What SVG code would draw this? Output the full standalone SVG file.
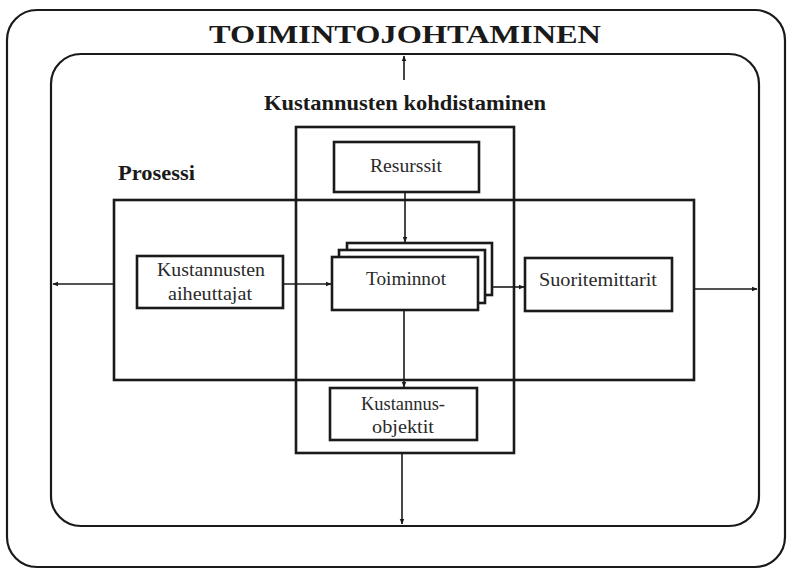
<svg xmlns="http://www.w3.org/2000/svg" width="792" height="569" viewBox="0 0 792 569">
<style>
.frame{fill:none;stroke:#1a1a1a;stroke-width:2.2}
.box{fill:#fff;stroke:#1a1a1a;stroke-width:2.6}
.open{fill:none;stroke:#1a1a1a;stroke-width:2.6}
.lbl{font-size:19px;fill:#2a2a2a;text-anchor:middle}
.head{font-weight:bold;fill:#1a1a1a}
.conn{fill:none;stroke:#1a1a1a;stroke-width:1.6}
</style>
<defs>
<marker id="arr" viewBox="0 0 10 10" refX="9" refY="5" markerWidth="6" markerHeight="6" orient="auto" markerUnits="userSpaceOnUse">
<path d="M0,1 L10,5 L0,9 z" fill="#1a1a1a"/>
</marker>
</defs>
<rect width="792" height="569" fill="#fff"/>
<g font-family="Liberation Serif, Times New Roman, serif">
<g id="toimintojohtaminen">
<rect class="frame" x="7" y="10" width="778" height="557" rx="30"/>
<text class="head" font-family="Liberation Serif, serif" x="405" y="43" font-size="26" text-anchor="middle" textLength="392" lengthAdjust="spacingAndGlyphs">TOIMINTOJOHTAMINEN</text>
</g>
<g id="inner-frame">
<rect class="frame" x="51" y="54" width="708" height="472" rx="30"/>
</g>
<g id="kohdistaminen">
<text class="head" font-family="Liberation Serif, serif" x="405" y="110" font-size="22" text-anchor="middle" textLength="282" lengthAdjust="spacingAndGlyphs">Kustannusten kohdistaminen</text>
<rect class="open" x="296" y="127" width="218" height="326"/>
</g>
<g id="prosessi">
<text class="head" font-family="Liberation Serif, serif" x="118" y="180" font-size="20" textLength="77" lengthAdjust="spacingAndGlyphs">Prosessi</text>
<rect class="open" x="114" y="200" width="580" height="180"/>
</g>
<g id="resurssit">
<rect class="box" x="334" y="142" width="145" height="50"/>
<text class="lbl" font-family="Liberation Serif, serif" x="406" y="172" textLength="72" lengthAdjust="spacingAndGlyphs">Resurssit</text>
</g>
<g id="aiheuttajat">
<rect class="box" x="137" y="256" width="146" height="52"/>
<text class="lbl" font-family="Liberation Serif, serif" x="211" y="276" textLength="108" lengthAdjust="spacingAndGlyphs">Kustannusten</text>
<text class="lbl" font-family="Liberation Serif, serif" x="210" y="300" textLength="84" lengthAdjust="spacingAndGlyphs">aiheuttajat</text>
</g>
<g id="toiminnot">
<rect class="box" x="347" y="243" width="145" height="52"/>
<rect class="box" x="339" y="250" width="146" height="53"/>
<rect class="box" x="332" y="257" width="146" height="53"/>
<text class="lbl" font-family="Liberation Serif, serif" x="406" y="285" textLength="80" lengthAdjust="spacingAndGlyphs">Toiminnot</text>
</g>
<g id="suoritemittarit">
<rect class="box" x="525" y="258" width="147" height="53"/>
<text class="lbl" font-family="Liberation Serif, serif" x="598" y="286" textLength="118" lengthAdjust="spacingAndGlyphs">Suoritemittarit</text>
</g>
<g id="kustannusobjektit">
<rect class="box" x="330" y="388" width="147" height="52"/>
<text class="lbl" font-family="Liberation Serif, serif" x="403" y="410" textLength="84" lengthAdjust="spacingAndGlyphs">Kustannus-</text>
<text class="lbl" font-family="Liberation Serif, serif" x="403" y="433" textLength="62" lengthAdjust="spacingAndGlyphs">objektit</text>
</g>
</g>
<g id="connectors">
<line class="conn" x1="404" y1="80" x2="404" y2="56" marker-end="url(#arr)"/>
<line class="conn" x1="405" y1="192" x2="405" y2="242" marker-end="url(#arr)"/>
<line class="conn" x1="283" y1="284" x2="331" y2="284" marker-end="url(#arr)"/>
<line class="conn" x1="492" y1="287" x2="524" y2="287" marker-end="url(#arr)"/>
<line class="conn" x1="114" y1="284" x2="53" y2="284" marker-end="url(#arr)"/>
<line class="conn" x1="694" y1="289" x2="757" y2="289" marker-end="url(#arr)"/>
<line class="conn" x1="404" y1="310" x2="404" y2="387" marker-end="url(#arr)"/>
<line class="conn" x1="402" y1="453" x2="402" y2="524" marker-end="url(#arr)"/>
</g>
</svg>
